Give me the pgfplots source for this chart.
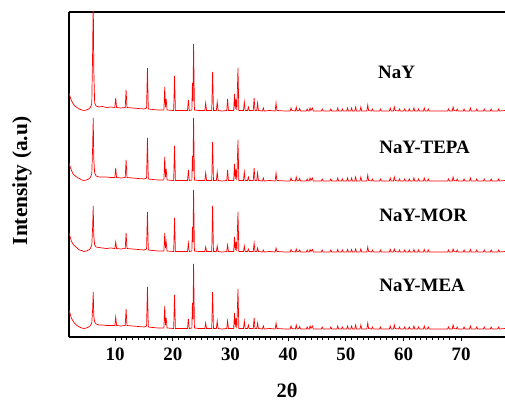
\documentclass[border=0pt]{standalone}
\usepackage{fontspec}
\setmainfont{Liberation Serif}
\usepackage{pgfplots}
\pgfplotsset{compat=1.18}
\usepackage{pgfplotstable}

% relative intensities (px above each trace's baseline)
\pgfplotstableread{
x a b c d
2.0 18 18 19 19
2.2 14 14 15 15
2.4 10.5 11 11 11
2.7 7.5 7 8 8
3.0 5 5.5 6 5.5
3.4 3.5 3.5 4 3.5
3.8 2 2.5 2 2
4.2 1 1 1.5 1
4.6 0.5 0.5 0.5 0.5
5.0 1 1 1 1
5.4 2 2 2 2
5.7 3.5 3.5 3.5 3.5
5.95 7 7 7 6
6.1 60 34 25 20
6.2 115 63 46 37
6.3 40 22 16 13
6.45 8 8 7 7
6.7 5 5 5 5
7.2 4 4 4.5 4
7.8 4.5 4 4 4
8.5 3.5 4 3.5 3.5
9.2 4 3.5 4 3.5
9.95 3.5 3.5 3.5 3.5
10.1 13 13 10 12
10.25 3.5 3.5 3.5 3.5
11.0 3 3 3 3
11.75 3.5 3.5 3.5 3.5
11.9 21 21 19 20
12.05 3.5 3.5 3.5 3.5
13.0 3 3 3 3
14.0 2.5 2.5 2.5 2.5
15.0 2 2 2 2
15.45 3 3 3 3
15.6 43 43 40 42
15.75 2 2 2 2
16.5 1.5 1.5 1.5 1.5
17.5 1 1 1 1
18.45 1 1 1 1
18.6 24 24 19 23
18.72 4 4 4 4
18.85 12 12 10 11
19.0 1 1 1 1
20.15 0.5 0.5 0.5 0.5
20.3 35 35 34 34
20.45 0.5 0.5 0.5 0.5
21.5 0.5 0.5 0.5 0.5
22.55 0.5 0.5 0.5 0.5
22.7 11 11 9 10
22.85 0.5 0.5 0.5 0.5
23.3 1 1 1 1
23.4 28 25 25 26
23.5 10 10 10 10
23.6 67 63 62 65
23.75 1 1 1 1
24.5 0.5 0.5 0.5 0.5
25.55 0.5 0.5 0.5 0.5
25.7 8 8 5 6
25.85 0.5 0.5 0.5 0.5
26.75 0.5 0.5 0.5 0.5
26.9 39 39 46 37
27.05 0.5 0.5 0.5 0.5
27.55 0.5 0.5 0.5 0.5
27.7 9 9 6 8
27.85 0.5 0.5 0.5 0.5
28.5 0 0 0 0
29.35 0.5 0.5 0.5 0.5
29.5 12 11 7 8
29.65 0.5 0.5 0.5 0.5
30.55 0.5 0.5 0.5 0.5
30.7 17 17 15 16
30.82 2 2 2 2
30.95 12 12 10 11
31.1 1 1 1 1
31.3 43 41 40 40
31.45 0.5 0.5 0.5 0.5
32.25 0.5 0.5 0.5 0.5
32.4 9 9 6 8
32.55 0.5 0.5 0.5 0.5
32.95 0.5 0.5 0.5 0.5
33.1 4 4 3 4
33.25 0.5 0.5 0.5 0.5
33.95 0.5 0.5 0.5 0.5
34.1 13 13 9 11
34.25 0.5 0.5 0.5 0.5
34.55 0.5 0.5 0.5 0.5
34.7 8 8 4 6
34.85 0.5 0.5 0.5 0.5
35.55 0 0 0 0
35.7 3 3 2 3
35.85 0 0 0 0
36.8 0.5 0.5 0.5 0.5
37.75 0 0 0 0
37.9 8 8 4 6
38.05 0.5 0.5 0.5 0.5
39.5 0 0 0 0
40.35 0 0 0 0
40.5 3 3 2.5 3
40.65 0.5 0.5 0.5 0.5
41.25 0 0 0 0
41.4 4 4 3 4
41.55 0 0 0 0
41.85 0.5 0.5 0.5 0.5
42.0 2.5 2.5 2 2.5
42.15 0 0 0 0
43.15 0 0 0 0
43.3 2 2 2 2
43.45 0 0 0 0
43.65 0 0 0 0
43.8 3 3 2.5 3
43.95 0.5 0.5 0.5 0.5
44.2 3 3 2.5 3
44.35 0 0 0 0
45.75 0 0 0 0
45.9 2 2 2 2
46.05 0 0 0 0
47.25 0 0 0 0
47.4 2 2 2 2
47.55 0 0 0 0
48.45 0 0 0 0
48.6 3 3 2.5 3
48.75 0 0 0 0
49.25 0 0 0 0
49.4 2 2 2 2
49.55 0 0 0 0
50.15 0 0 0 0
50.3 3 3 2.5 3
50.45 0 0 0 0
50.85 0 0 0 0
51.0 3 3 2.5 3
51.15 0 0 0 0
51.55 0 0 0 0
51.7 4 4 3 4
51.85 0 0 0 0
52.45 0 0 0 0
52.6 4 4 3 4
52.75 0 0 0 0
53.65 0 0 0 0
53.8 6 6 5 6
53.95 0.5 0.5 0.5 0.5
54.45 0 0 0 0
54.6 2 2 2 2
54.75 0 0 0 0
55.85 0 0 0 0
56.0 2 2 2 2
56.15 0 0 0 0
57.55 0 0 0 0
57.7 3 3 2.5 3
57.85 0 0 0 0
58.25 0 0 0 0
58.4 4 4 3 4
58.55 0.5 0.5 0.5 0.5
59.15 0 0 0 0
59.3 2 2 2 2
59.45 0 0 0 0
60.05 0 0 0 0
60.2 2 2 2 2
60.35 0 0 0 0
60.85 0 0 0 0
61.0 2 2 2 2
61.15 0 0 0 0
61.65 0 0 0 0
61.8 3 3 2.5 3
61.95 0 0 0 0
62.45 0 0 0 0
62.6 2 2 2 2
62.75 0 0 0 0
63.45 0 0 0 0
63.6 3 3 2.5 3
63.75 0 0 0 0
64.15 0 0 0 0
64.3 2 2 2 2
64.45 0 0 0 0
65.5 0 0 0 0
67.65 0 0 0 0
67.8 2 2 2 2
67.95 0 0 0 0
68.45 0 0 0 0
68.6 4 4 3 4
68.75 0.5 0.5 0.5 0.5
69.15 0 0 0 0
69.3 2 2 2 2
69.45 0 0 0 0
70.35 0 0 0 0
70.5 2 2 2 2
70.65 0 0 0 0
71.45 0 0 0 0
71.6 3 3 2.5 3
71.75 0 0 0 0
72.55 0 0 0 0
72.7 2 2 2 2
72.85 0 0 0 0
73.85 0 0 0 0
74.0 2 2 2 2
74.15 0 0 0 0
75.05 0 0 0 0
75.2 2 2 2 2
75.35 0 0 0 0
76.35 0 0 0 0
76.5 2 2 2 2
76.65 0 0 0 0
77.6 0.5 0.5 0.5 0.5
}\xrd

\begin{document}
\begin{tikzpicture}
\useasboundingbox (-69bp,-66bp) rectangle (436bp,337bp);
\begin{axis}[
  at={(0,0)}, anchor=south west,
  scale only axis, width=436bp, height=325bp,
  xmin=2, xmax=77.6, ymin=0, ymax=325,
  axis x line*=box, axis y line*=left,
  axis line style={line width=1.8bp, black},
  xtick={10,20,...,70}, ytick=\empty,
  minor x tick num=9,
  xtick pos=left, tick align=outside,
  major tick length=4bp, minor tick length=2.5bp,
  tick style={black, line width=0.8bp},
  /pgf/number format/assume math mode=true,
  xticklabel style={font=\fontsize{19}{19}\selectfont\bfseries, yshift=-3bp},
  xlabel={2θ},
  xlabel style={at={(axis description cs:0.5,-0.163)}, anchor=center,
    inner sep=1bp, font=\fontsize{20.5}{20.5}\selectfont\bfseries},
  ylabel={Intensity (a.u)},
  ylabel style={at={(axis description cs:-0.108,0.48)}, anchor=center,
    font=\fontsize{21.5}{21.5}\selectfont\bfseries},
  every node/.append style={text=black},
]
\addplot[red, line width=0.7bp] table[x=x, y expr=\thisrow{a}+226] {\xrd};
\addplot[red, line width=0.7bp] table[x=x, y expr=\thisrow{b}+156] {\xrd};
\addplot[red, line width=0.7bp] table[x=x, y expr=\thisrow{c}+85] {\xrd};
\addplot[red, line width=0.7bp] table[x=x, y expr=\thisrow{d}+8] {\xrd};
\node[anchor=west, font=\fontsize{19}{19}\selectfont\bfseries] at (axis cs:55.0,265) {NaY};
\node[anchor=west, font=\fontsize{19}{19}\selectfont\bfseries] at (axis cs:55.2,190) {NaY-TEPA};
\node[anchor=west, font=\fontsize{19}{19}\selectfont\bfseries] at (axis cs:55.2,122) {NaY-MOR};
\node[anchor=west, font=\fontsize{19}{19}\selectfont\bfseries] at (axis cs:55.2,52) {NaY-MEA};
\end{axis}
\end{tikzpicture}
\end{document}
